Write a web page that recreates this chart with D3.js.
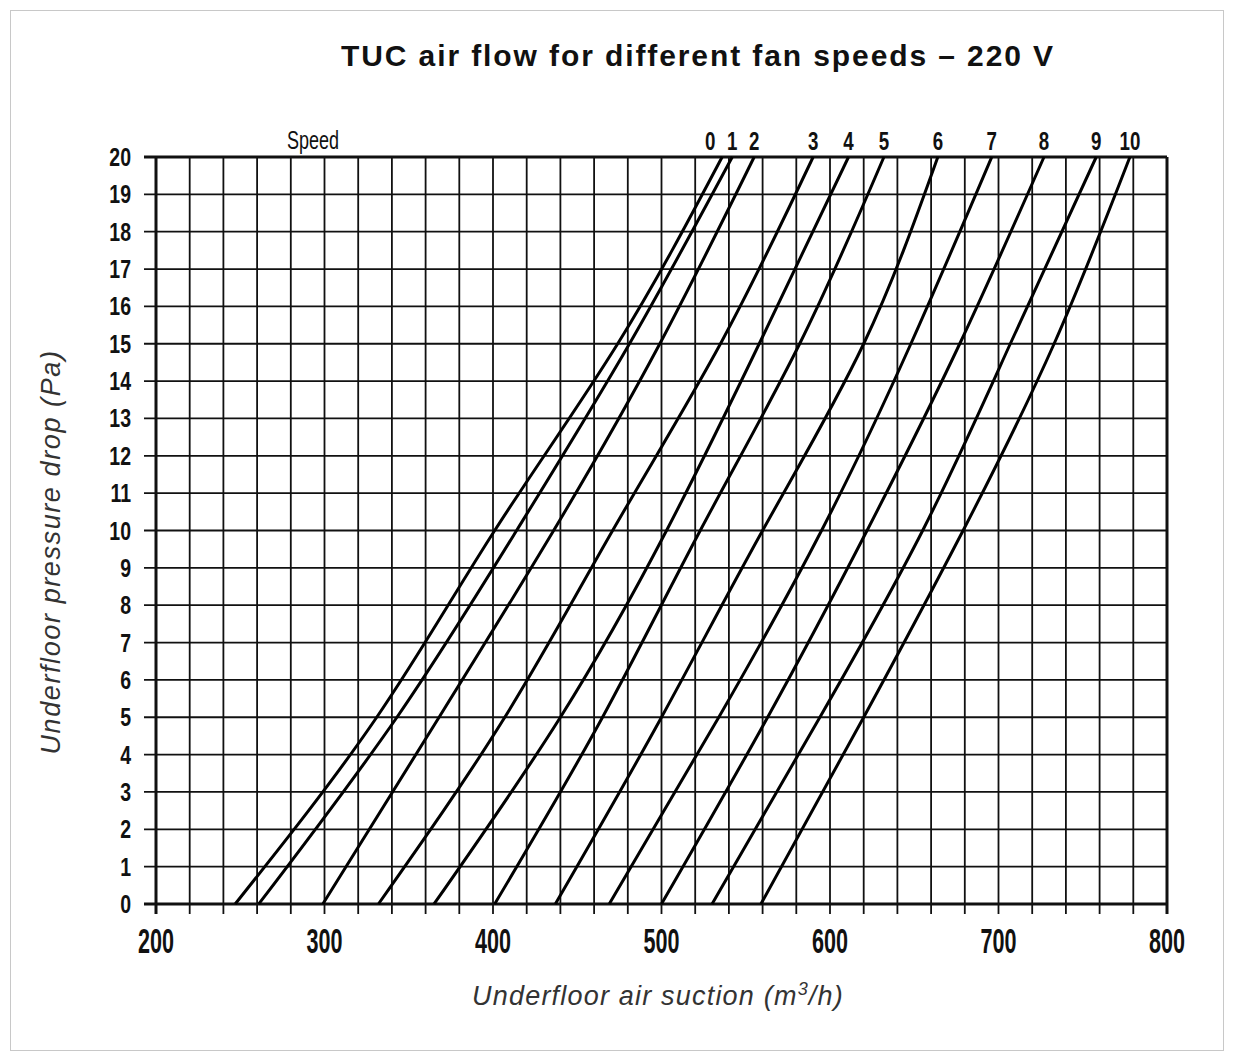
<!DOCTYPE html>
<html><head><meta charset="utf-8">
<script src="https://cdn.jsdelivr.net/npm/d3@7"></script>
<style>body{margin:0;background:#fff}</style>
</head><body>
<svg id="c" width="1234" height="1061"></svg>
<script>
// Data
const pressure = [0, 5, 10, 15, 20];
const speed0  = [247, 331, 401, 474, 536];
const speed1  = [261, 343, 414, 481, 542];
const speed2  = [299, 368, 436, 499, 555];
const speed3  = [332, 407, 471, 535, 590];
const speed4  = [365, 440, 503, 558, 611];
const speed5  = [401, 465, 523, 582, 632];
const speed6  = [437, 500, 560, 620, 664];
const speed7  = [469, 534, 595, 648, 696];
const speed8  = [500, 563, 622, 677, 727];
const speed9  = [530, 594, 655, 707, 758];
const speed10 = [559, 620, 679, 733, 778];
const speedNames = ["0","1","2","3","4","5","6","7","8","9","10"];
const xTickLabels = [200, 300, 400, 500, 600, 700, 800];
const yTickLabels = d3.range(0, 21);

const series = [speed0,speed1,speed2,speed3,speed4,speed5,speed6,speed7,speed8,speed9,speed10];

const svg = d3.select("#c");
const L = 156, R = 1167, T = 157, B = 904;
const x = d3.scaleLinear().domain([200, 800]).range([L, R]);
const y = d3.scaleLinear().domain([0, 20]).range([B, T]);

svg.append("rect").attr("x",10.5).attr("y",10.5).attr("width",1213).attr("height",1040)
  .attr("fill","none").attr("stroke","#c8c8c8").attr("stroke-width",1);

const sans = "'Liberation Sans',Arial,sans-serif";

// condensed text helper
function ctext(parent, tx, ty, str, size, sx, anchor, weight) {
  return parent.append("text")
    .attr("transform", `translate(${tx},${ty}) scale(${sx},1)`)
    .attr("text-anchor", anchor).attr("font-family", sans)
    .attr("font-weight", weight).attr("font-size", size).attr("fill", "#111").text(str);
}

// vertical grid with ticks below
const g = svg.append("g");
d3.range(200, 801, 20).forEach(v => {
  g.append("line").attr("x1", x(v)).attr("x2", x(v)).attr("y1", T).attr("y2", B + 10)
    .attr("stroke", "#111").attr("stroke-width", (v===200||v===800)?3:1.8);
});
// horizontal grid with ticks left
yTickLabels.forEach(v => {
  g.append("line").attr("x1", L - 12).attr("x2", R).attr("y1", y(v)).attr("y2", y(v))
    .attr("stroke", "#111").attr("stroke-width", (v===0||v===20)?3:1.8);
});

// Axis labels
const yl = svg.append("g");
yTickLabels.forEach(d => ctext(yl, 131, y(d) + 9, d, 25, 0.78, "end", "bold"));
const xl = svg.append("g");
xTickLabels.forEach(d => ctext(xl, x(d), 953, d, 36, 0.6, "middle", "bold"));

// Curves
const line = d3.line().x(d => x(d[0])).y(d => y(d[1])).curve(d3.curveNatural);
series.forEach(s => {
  svg.append("path").datum(s.map((v, i) => [v, pressure[i]])).attr("d", line)
    .attr("fill", "none").attr("stroke", "#000").attr("stroke-width", 3);
});

// Speed labels
ctext(svg, 313, 149, "Speed", 25, 0.72, "middle", "normal");
const sl = svg.append("g");
series.forEach((d, i) => ctext(sl, x(d[d.length - 1]) + (i === 0 ? -12 : 0), 150, speedNames[i], 26, 0.72, "middle", "bold"));

// Title
svg.append("text").attr("x", 698).attr("y", 66).attr("text-anchor", "middle")
  .attr("font-family", sans).attr("font-weight", "bold").attr("letter-spacing", 1.9)
  .attr("font-size", 30).attr("fill", "#111").text("TUC air flow for different fan speeds \u2013 220 V");

// Axis titles
const xt = svg.append("text").attr("x", 658).attr("y", 1005).attr("text-anchor", "middle")
  .attr("font-family", sans).attr("font-style", "italic").attr("letter-spacing", 1.2)
  .attr("font-size", 27).attr("fill", "#333");
xt.append("tspan").text("Underfloor air suction (m");
xt.append("tspan").attr("dy", -10).attr("font-size", 18).text("3");
xt.append("tspan").attr("dy", 10).text("/h)");

svg.append("text").attr("transform", "translate(60,552) rotate(-90)").attr("text-anchor", "middle")
  .attr("font-family", sans).attr("font-style", "italic").attr("letter-spacing", 1.6)
  .attr("font-size", 27).attr("fill", "#333").text("Underfloor pressure drop (Pa)");
</script>
</body></html>
